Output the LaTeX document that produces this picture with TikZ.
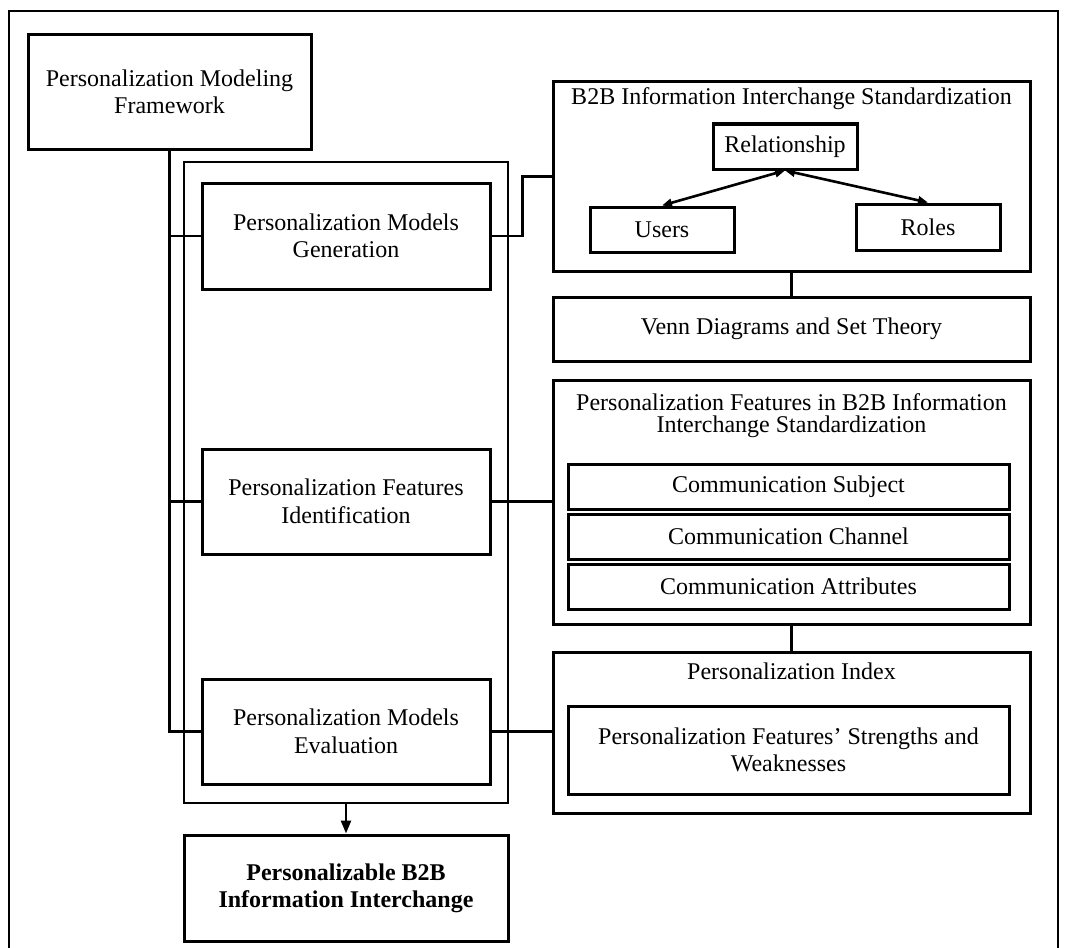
\documentclass[tikz,border=0pt]{standalone}
\usepackage{fontspec}
\setmainfont{Liberation Serif}
\usetikzlibrary{arrows.meta}

\begin{document}
\begin{tikzpicture}[x=1pt, y=-1pt, line join=miter,
  box/.style={draw, line width=3pt, inner sep=0pt, align=center,
    font=\fontsize{24}{27.5}\selectfont},
  holder/.style={draw, line width=3pt, inner sep=0pt},
  frame/.style={line width=2.2pt},
  caption/.style={inner sep=0pt, align=center, font=\fontsize{24}{22}\selectfont},
  link/.style={line width=2.2pt},
  both/.style={line width=2.6pt, {Triangle[length=10pt,width=8pt]}-{Triangle[length=10pt,width=8pt]}}]

  %% ════ 外框 ════
  \draw[frame] (9,950) -- (9,11) -- (1058,11) -- (1058,950);

  %% ════ 左列 ════
  \node[box, minimum width=283, minimum height=114] (fw) at (169.5,92) {Personalization Modeling\\Framework};
  \node[draw, frame, inner sep=0pt, minimum width=324, minimum height=641] (grp) at (346,482.5) {};
  \node[box, minimum width=288, minimum height=106] (gen) at (346,236) {Personalization Models\\Generation};
  \node[box, minimum width=288, minimum height=105] (ident) at (346,501.5) {Personalization Features\\Identification};
  \node[box, minimum width=288, minimum height=105] (eval) at (346,731.5) {Personalization Models\\Evaluation};
  \node[box, minimum width=324, minimum height=106, font=\fontsize{24}{27}\selectfont\bfseries] (out) at (346,888) {Personalizable B2B\\Information Interchange};

  %% ════ 右列：标准化 ════
  \node[holder, minimum width=477, minimum height=189] (std) at (791.5,176.5) {};
  \node[caption] (stdtitle) at (791.5,99) {B2B Information Interchange Standardization};
  \node[box, minimum width=144, minimum height=45] (rel) at (785,146.5) {Relationship};
  \node[box, minimum width=144, minimum height=45] (users) at (662,229.5) {Users};
  \node[box, minimum width=144, minimum height=46] (roles) at (928,227) {Roles};
  \node[box, minimum width=477, minimum height=64] (venn) at (791.5,329) {Venn Diagrams and Set Theory};

  %% ════ 右列：特征 ════
  \node[holder, minimum width=477, minimum height=244] (feat) at (791.5,502) {};
  \node[caption] (feattitle) at (791.5,416) {Personalization Features in B2B Information\\Interchange Standardization};
  \node[box, minimum width=441, minimum height=45] (subj) at (788.5,486.5) {Communication Subject};
  \node[box, minimum width=441, minimum height=45] (chan) at (788.5,536.5) {Communication Channel};
  \node[box, minimum width=441, minimum height=45] (attr) at (788.5,586.5) {Communication Attributes};

  %% ════ 右列：指数 ════
  \node[holder, minimum width=477, minimum height=161] (index) at (791.5,732.5) {};
  \node[caption] (indextitle) at (791.5,671) {Personalization Index};
  \node[box, minimum width=441, minimum height=88] (strength) at (788.5,750) {Personalization Features’ Strengths and\\Weaknesses};

  %% ════ 连线 ════
  \draw[link] (fw.south) |- (eval.west);
  \draw[link] (fw.south |- gen.west) -- (gen.west);
  \draw[link] (fw.south |- ident.west) -- (ident.west);
  \draw[link] (gen.east) -- ++(31,0) |- (std.west);
  \draw[link] (ident.east) -- (ident.east -| feat.west);
  \draw[link] (eval.east) -- (eval.east -| index.west);
  \draw[link] (std.south) -- (venn.north);
  \draw[link] (feat.south) -- (index.north);
  \draw[link, line width=2.6pt, -{Triangle[length=13pt,width=10pt]}] (grp.south) -- (out.north);
  \draw[both] (rel.south) -- (users.north);
  \draw[both] (rel.south) -- (roles.north);

  % 钉死画布
  \pgfresetboundingbox
  \path[use as bounding box] (0,0) rectangle (1067,947);
\end{tikzpicture}
\end{document}
